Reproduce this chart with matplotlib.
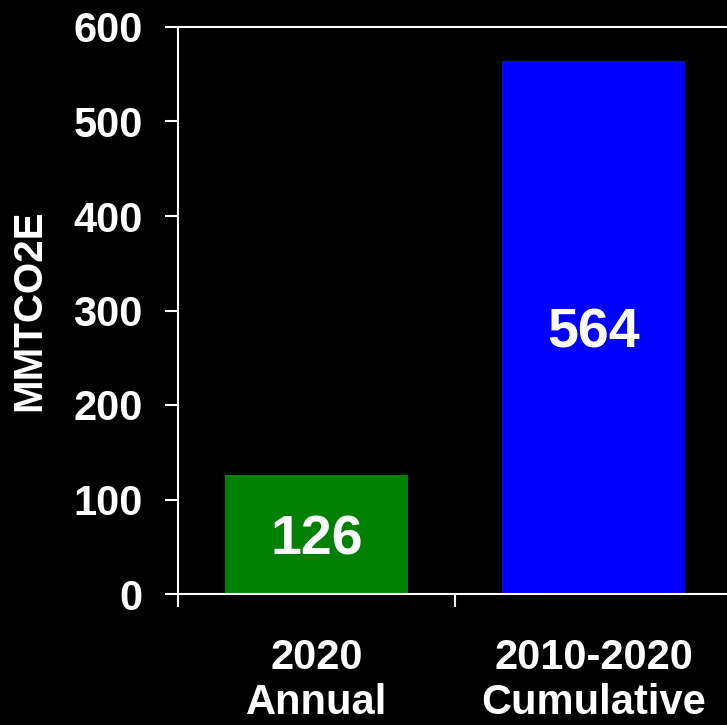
import matplotlib

matplotlib.use("Agg")

import matplotlib.pyplot as plt


categories = ["2020\nAnnual", "2010-2020\nCumulative"]
values = [126, 564]
bar_colors = ["#008000", "#0000ff"]
y_ticks = [0, 100, 200, 300, 400, 500, 600]

plt.rcParams["font.family"] = ["Liberation Sans", "DejaVu Sans"]
plt.rcParams["font.weight"] = "bold"

fig = plt.figure(figsize=(7.27, 7.25), dpi=100, facecolor="black")
ax = fig.add_axes((178 / 727, 131 / 725, 554 / 727, 567 / 725))
ax.set_facecolor("black")

positions = [0.5, 1.5]
bars = ax.bar(positions, values, width=0.66, color=bar_colors)

for bar, value in zip(bars, values):
    ax.text(
        bar.get_x() + bar.get_width() / 2,
        value / 2,
        f"{value}",
        ha="center",
        va="center_baseline",
        color="white",
        fontsize=40,
        fontweight="bold",
    )

ax.set_xlim(0, 2)
ax.set_ylim(0, 600)
ax.set_yticks(y_ticks)
ax.set_xticks([0, 1, 2])
ax.set_xticklabels([])
ax.set_xticks(positions, minor=True)
ax.set_xticklabels(categories, minor=True)

ax.tick_params(
    axis="y", colors="white", labelsize=30, length=9.5, width=1.5, pad=16
)
ax.tick_params(axis="x", which="major", colors="white", length=9.5, width=1.5)
ax.tick_params(
    axis="x", which="minor", colors="white", labelsize=30, length=0, pad=32
)
for label in ax.get_yticklabels():
    label.set_fontweight("bold")
for label in ax.get_xticklabels(minor=True):
    label.set_fontweight("bold")
    label.set_linespacing(1.15)

for spine in ax.spines.values():
    spine.set_color("white")
    spine.set_linewidth(1.5)

ax.set_ylabel("MMTCO2E", color="white", fontsize=29, fontweight="bold", labelpad=18)

fig.savefig("out.png", dpi=100, facecolor="black")
